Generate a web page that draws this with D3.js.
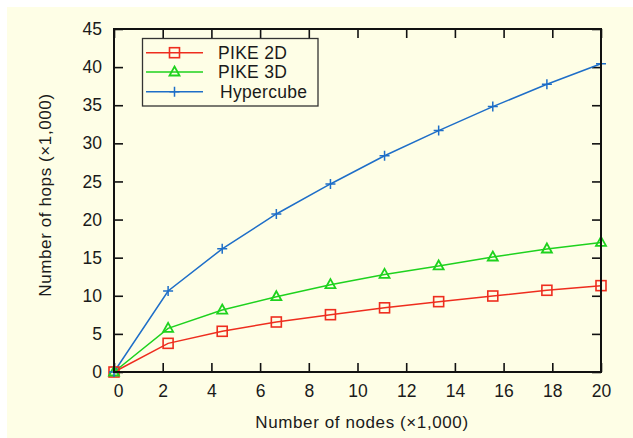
<!DOCTYPE html>
<html><head><meta charset="utf-8">
<script src="https://cdn.jsdelivr.net/npm/d3@7"></script>
<style>
html,body{margin:0;padding:0;background:#fff;}
text{font-family:"Liberation Sans",Arial,sans-serif;fill:#1a1a1a;}
</style></head>
<body>
<script>
const nodes = [0, 2.222, 4.444, 6.667, 8.889, 11.111, 13.333, 15.556, 17.778, 20];
const pike2d = [0, 3.76, 5.34, 6.56, 7.52, 8.42, 9.23, 9.97, 10.72, 11.33];
const pike3d = [0, 5.73, 8.13, 9.88, 11.46, 12.8, 13.91, 15.09, 16.14, 17.0];
const hypercube = [0, 10.63, 16.16, 20.73, 24.67, 28.37, 31.67, 34.82, 37.75, 40.45];
const xTicks = [0, 2, 4, 6, 8, 10, 12, 14, 16, 18, 20];
const yTicks = [0, 5, 10, 15, 20, 25, 30, 35, 40, 45];
const seriesNames = ["PIKE 2D", "PIKE 3D", "Hypercube"];
const xTitle = "Number of nodes (×1,000)";
const yTitle = "Number of hops (×1,000)";

const W = 633, H = 438;
const m = {left:114, top:29, right:32, bottom:66};
const svg = d3.select("body").append("svg").attr("width", W).attr("height", H);
svg.append("rect").attr("x",7).attr("y",7).attr("width",W-7).attr("height",H-7).attr("fill","#fefee6");

const x = d3.scaleLinear().domain([0,20]).range([m.left, W-m.right]);
const y = d3.scaleLinear().domain([0,45]).range([H-m.bottom, m.top]);

const g = svg.append("g");
const tickLen = 9;
const axB = d3.axisBottom(x).tickValues(xTicks).tickSizeInner(-tickLen).tickSizeOuter(0).tickPadding(13);
const axT = d3.axisTop(x).tickValues(xTicks).tickSizeInner(-tickLen).tickSizeOuter(0).tickFormat("");
const axL = d3.axisLeft(y).tickValues(yTicks).tickSizeInner(-tickLen).tickSizeOuter(0).tickPadding(12);
const axR = d3.axisRight(y).tickValues(yTicks).tickSizeInner(-tickLen).tickSizeOuter(0).tickFormat("");
function style(sel){
  sel.selectAll(".domain").remove();
  sel.selectAll(".tick line").attr("stroke","#111").attr("stroke-width",1.6);
  sel.selectAll(".tick text").attr("font-size",17.5).attr("fill","#151515");
}
const gb = g.append("g").attr("transform",`translate(0,${H-m.bottom})`).call(axB).call(style);
gb.selectAll(".tick text").filter(d=>d===0).attr("dx",4);
g.append("g").attr("transform",`translate(0,${m.top})`).call(axT).call(style);
g.append("g").attr("transform",`translate(${m.left},0)`).call(axL).call(style);
g.append("g").attr("transform",`translate(${W-m.right},0)`).call(axR).call(style);

const colors = ["#ee2d1e", "#1ed21e", "#1e6ec8"];
const data = [pike2d, pike3d, hypercube];
const line = d3.line().x((d,i)=>x(nodes[i])).y(d=>y(d));

function marker(sel, k, cx, cy){
  if(k===0){
    sel.append("rect").attr("x",cx-5).attr("y",cy-5).attr("width",10).attr("height",10)
      .attr("fill","none").attr("stroke",colors[0]).attr("stroke-width",1.6);
  } else if(k===1){
    sel.append("path").attr("d",`M${cx},${cy-5.5}L${cx+5},${cy+3.5}L${cx-5},${cy+3.5}Z`)
      .attr("fill","none").attr("stroke",colors[1]).attr("stroke-width",1.8);
  } else {
    sel.append("path").attr("d",`M${cx-5},${cy}H${cx+5}M${cx},${cy-5}V${cy+5}`)
      .attr("fill","none").attr("stroke",colors[2]).attr("stroke-width",1.5);
  }
}

data.forEach((vals,k)=>{
  svg.append("path").datum(vals).attr("d",line).attr("fill","none")
    .attr("stroke",colors[k]).attr("stroke-width",1.5);
});
data.forEach((vals,k)=>{
  const gm = svg.append("g");
  vals.forEach((v,i)=>marker(gm,k,x(nodes[i]),y(v)));
});

svg.append("rect").attr("x",m.left).attr("y",m.top).attr("width",W-m.left-m.right).attr("height",H-m.top-m.bottom)
  .attr("fill","none").attr("stroke","#111").attr("stroke-width",2);

// legend
const lg = svg.append("g");
lg.append("rect").attr("x",142.5).attr("y",38.5).attr("width",175.5).attr("height",67.5)
  .attr("fill","#fefee6").attr("stroke","#333").attr("stroke-width",1.3);
const rowY = [52.7, 72, 91.7];
seriesNames.forEach((name,k)=>{
  lg.append("line").attr("x1",146).attr("x2",203).attr("y1",rowY[k]).attr("y2",rowY[k])
    .attr("stroke",colors[k]).attr("stroke-width",1.5);
  marker(lg,k,174.5,rowY[k]);
  lg.append("text").attr("x", k===2?220:218).attr("y",rowY[k]+6).attr("font-size",17.5)
    .attr("letter-spacing",0.3).text(name);
});

// titles
svg.append("text").attr("x",362).attr("y",428).attr("text-anchor","middle").attr("font-size",17)
  .attr("letter-spacing",0.6).text(xTitle);
svg.append("text").attr("transform","translate(51,195) rotate(-90)").attr("text-anchor","middle").attr("font-size",17)
  .attr("letter-spacing",0.6).text(yTitle);
</script>
</body></html>
